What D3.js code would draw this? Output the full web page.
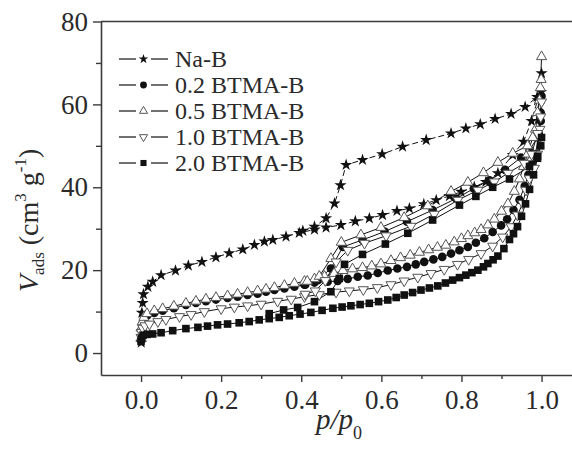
<!DOCTYPE html>
<html>
<head>
<meta charset="utf-8">
<script src="https://cdn.jsdelivr.net/npm/d3@7"></script>
<style>
  html, body { margin: 0; padding: 0; background: #fff; }
  svg { display: block; font-family: 'Liberation Serif', 'Times New Roman', serif; }
</style>
</head>
<body>
<div id="chart"></div>
<script>
// isotherm data, [p/p0, V_ads]
const seriesNames = ['Na-B', '0.2 BTMA-B', '0.5 BTMA-B', '1.0 BTMA-B', '2.0 BTMA-B'];

const naB_ads = [[0.0005,2.5],[0.001,5],[0.002,9.7],[0.004,12.1],[0.006,14.2],[0.017,16.0],[0.029,17.2],[0.05,18.8],[0.086,19.9],[0.118,21.1],[0.152,22.0],[0.187,23.1],[0.22,24.1],[0.254,25.0],[0.283,26.1],[0.308,26.9],[0.329,27.3],[0.362,28.1],[0.395,29.0],[0.433,29.8],[0.462,30.3],[0.499,30.9],[0.535,31.8],[0.570,32.5],[0.603,33.3],[0.639,34.3],[0.670,34.9],[0.706,35.9],[0.737,36.9],[0.770,37.9],[0.799,38.9],[0.832,40.1],[0.861,41.3],[0.891,43.4],[0.928,47.8],[0.955,51],[0.975,56],[0.99,61],[1.0,67.5]];
const naB_des = [[0.999,63.0],[0.989,61.8],[0.959,59.4],[0.924,57.7],[0.884,56.5],[0.847,55.2],[0.811,54.2],[0.774,53.0],[0.712,51.4],[0.653,49.8],[0.602,48.0],[0.553,46.6],[0.512,45.4],[0.498,40.5],[0.483,36.1],[0.462,32.5],[0.433,30.5],[0.404,29.5]];

const b02_ads = [[0,3.2],[0.001,5.5],[0.003,7.0],[0.007,8.2],[0.015,9.0],[0.033,9.7],[0.054,10.2],[0.082,10.8],[0.112,11.6],[0.137,12.1],[0.162,12.5],[0.187,12.9],[0.216,13.3],[0.241,13.6],[0.266,14.0],[0.291,14.3],[0.312,14.8],[0.333,15.2],[0.358,15.6],[0.383,16.0],[0.408,16.5],[0.433,17.0],[0.466,17.2],[0.491,17.4],[0.516,17.9],[0.541,18.4],[0.566,18.7],[0.591,19.3],[0.616,19.9],[0.64,20.4],[0.664,20.8],[0.686,21.4],[0.707,22.0],[0.73,22.6],[0.752,23.2],[0.774,24.0],[0.795,24.8],[0.816,25.6],[0.836,26.6],[0.857,27.7],[0.878,29.2],[0.899,30.8],[0.914,32.3],[0.93,34.5],[0.945,37],[0.958,40.3],[0.967,43],[0.975,45.5],[0.985,48],[0.993,53],[0.998,58],[1.0,62]];
const b02_des = [[0.998,56],[0.99,52],[0.97,49],[0.949,47.2],[0.909,44.2],[0.87,41.7],[0.831,39.7],[0.787,37.3],[0.728,34.5],[0.664,31.7],[0.608,29.3],[0.553,27.3],[0.504,25.6],[0.474,20.4],[0.441,17.6],[0.41,16.5]];

const b05_ads = [[0,3.5],[0.001,6],[0.003,7.5],[0.007,8.6],[0.015,9.5],[0.033,10.2],[0.054,10.7],[0.082,11.3],[0.112,12.0],[0.137,12.5],[0.162,13.0],[0.187,13.4],[0.216,13.8],[0.241,14.2],[0.266,14.6],[0.291,15.0],[0.312,15.4],[0.333,15.8],[0.358,16.3],[0.383,16.8],[0.408,17.3],[0.433,17.9],[0.458,18.5],[0.482,19.2],[0.504,19.9],[0.528,20.3],[0.553,20.6],[0.576,21.0],[0.599,21.5],[0.624,22.3],[0.648,23.0],[0.672,23.6],[0.695,24.3],[0.718,24.9],[0.74,25.5],[0.761,26.0],[0.782,26.8],[0.8,27.6],[0.816,28.3],[0.833,29.0],[0.849,29.8],[0.866,30.9],[0.882,32.3],[0.9,34.2],[0.916,36],[0.932,39],[0.945,42],[0.955,45],[0.965,48],[0.978,52],[0.99,58],[0.997,64],[1.0,71.5]];
const b05_des = [[0.999,66],[0.995,61],[0.985,54],[0.965,50],[0.928,48.2],[0.891,46],[0.855,43.5],[0.816,41.2],[0.774,39],[0.716,35.5],[0.657,32.7],[0.599,30.3],[0.549,28.5],[0.5,26.7],[0.474,22.8],[0.445,18.5],[0.415,17.3]];

const b10_ads = [[0,3.8],[0.001,5],[0.004,6],[0.01,6.6],[0.021,7.0],[0.042,7.6],[0.062,8.1],[0.096,8.8],[0.125,9.3],[0.158,10.0],[0.2,10.7],[0.233,11.1],[0.266,11.4],[0.3,11.8],[0.341,12.5],[0.375,13.0],[0.408,13.6],[0.445,14.1],[0.487,14.7],[0.52,15.0],[0.555,15.3],[0.59,15.8],[0.624,16.5],[0.657,17.4],[0.691,18.3],[0.724,19.2],[0.757,20.2],[0.79,21.4],[0.818,22.6],[0.849,24.0],[0.878,25.8],[0.903,28.0],[0.924,30.5],[0.94,33.3],[0.953,36.1],[0.961,39.3],[0.97,42.1],[0.982,44.6],[0.99,48],[0.996,54],[1.0,60.6]];
const b10_des = [[0.998,57],[0.99,53],[0.975,48],[0.957,45.8],[0.916,43.4],[0.882,41.3],[0.841,39.3],[0.791,36.9],[0.732,33.5],[0.674,30.6],[0.612,28.3],[0.558,26.5],[0.516,24.8],[0.487,22],[0.46,17.5],[0.435,15],[0.41,14.2]];

const b20_ads = [[0,2.8],[0.001,3.5],[0.005,4.3],[0.015,4.5],[0.029,4.6],[0.05,4.9],[0.079,5.4],[0.112,5.9],[0.142,6.2],[0.166,6.5],[0.191,6.8],[0.216,7.0],[0.245,7.3],[0.27,7.6],[0.295,8.0],[0.32,8.3],[0.345,8.6],[0.37,9.0],[0.397,9.4],[0.424,9.8],[0.452,10.3],[0.479,10.8],[0.502,11.1],[0.524,11.4],[0.547,11.7],[0.57,12.0],[0.593,12.4],[0.616,12.8],[0.637,13.4],[0.657,14.0],[0.678,14.6],[0.699,15.2],[0.72,15.7],[0.741,16.2],[0.76,16.9],[0.778,17.6],[0.795,18.2],[0.811,18.8],[0.826,19.4],[0.841,20.0],[0.855,20.8],[0.866,21.6],[0.879,22.5],[0.891,23.4],[0.906,25.2],[0.92,27.4],[0.93,28.8],[0.94,30.5],[0.95,33],[0.96,36],[0.97,39.5],[0.98,43],[0.99,47],[1.0,52]];
const b20_des = [[0.998,50],[0.99,47.5],[0.97,45],[0.92,42],[0.878,40],[0.836,37.8],[0.795,35.7],[0.728,32.1],[0.666,28.9],[0.61,26.3],[0.553,23.8],[0.508,21.4],[0.495,18],[0.474,14.8],[0.433,12.4],[0.391,11.0],[0.356,10.4],[0.32,9.5]];

const xMajor = [0, 0.2, 0.4, 0.6, 0.8, 1.0];
const xMinor = [0.1, 0.3, 0.5, 0.7, 0.9];
const yMajor = [0, 20, 40, 60, 80];
const yMinor = [10, 30, 50, 70];

const series = [
  { name: seriesNames[0], branches: [naB_ads, naB_des], sym: 'star', dash: '6,3' },
  { name: seriesNames[1], branches: [b02_ads, b02_des], sym: 'circle', dash: null },
  { name: seriesNames[2], branches: [b05_ads, b05_des], sym: 'tri', dash: null },
  { name: seriesNames[3], branches: [b10_ads, b10_des], sym: 'triDown', dash: null },
  { name: seriesNames[4], branches: [b20_ads, b20_des], sym: 'square', dash: null },
];

const W = 572, H = 449;
const svg = d3.select('#chart').append('svg').attr('width', W).attr('height', H);

const x = d3.scaleLinear().domain([-0.1, 1.1]).range([101, 101 + 1.2 * 400.5]);
const y = d3.scaleLinear().domain([-5.3, 80]).range([375, 21.5]);

const axisColor = '#3a3a3a';

// draw a marker of a given kind
const drawMarker = (g, kind, px, py, scale) => {
  const s = scale || 1;
  if (kind === 'star') {
    g.append('path')
      .attr('d', d3.symbol(d3.symbolStar, 46 * s * s)())
      .attr('transform', 'translate(' + px + ',' + py + ')')
      .attr('fill', '#111');
  } else if (kind === 'circle') {
    g.append('circle').attr('cx', px).attr('cy', py).attr('r', 4.3 * s).attr('fill', '#111');
  } else if (kind === 'square') {
    g.append('rect')
      .attr('x', px - 3.8 * s).attr('y', py - 3.8 * s)
      .attr('width', 7.6 * s).attr('height', 7.6 * s)
      .attr('fill', '#111');
  } else {
    const rot = kind === 'triDown' ? 180 : 0;
    g.append('path')
      .attr('d', d3.symbol(d3.symbolTriangle, 44 * s * s)())
      .attr('transform', 'translate(' + px + ',' + py + ') rotate(' + rot + ')')
      .attr('fill', '#fff')
      .attr('stroke', '#555')
      .attr('stroke-width', 1);
  }
};

// axes
const xAxisG = svg.append('g').attr('transform', 'translate(0,375)');
xAxisG.call(d3.axisBottom(x).tickValues(xMajor).tickFormat(d3.format('.1f')).tickSize(7).tickSizeOuter(0).tickPadding(8));
xAxisG.append('g').call(d3.axisBottom(x).tickValues(xMinor).tickFormat('').tickSize(4).tickSizeOuter(0))
  .select('.domain').remove();

const yAxisG = svg.append('g').attr('transform', 'translate(101,0)');
yAxisG.call(d3.axisLeft(y).tickValues(yMajor).tickFormat(d3.format('d')).tickSize(8).tickSizeOuter(0).tickPadding(5));
yAxisG.append('g').call(d3.axisLeft(y).tickValues(yMinor).tickFormat('').tickSize(5).tickSizeOuter(0))
  .select('.domain').remove();

svg.selectAll('.domain').attr('stroke', axisColor).attr('stroke-width', 1.6);
svg.selectAll('.tick line').attr('stroke', axisColor).attr('stroke-width', 1.4);
svg.selectAll('.tick text')
  .attr('fill', '#2a2a2a')
  .style('font-family', "'Liberation Serif', serif")
  .style('font-size', '27px');

// top frame line
svg.append('line')
  .attr('x1', 101).attr('x2', W).attr('y1', y(80)).attr('y2', y(80))
  .attr('stroke', axisColor).attr('stroke-width', 1.6);

// curves
const line = d3.line().x((d) => x(d[0])).y((d) => y(d[1]));
const plot = svg.append('g');

series.forEach((s) => {
  s.branches.forEach((b) => {
    plot.append('path')
      .datum(b)
      .attr('d', line)
      .attr('fill', 'none')
      .attr('stroke', '#111')
      .attr('stroke-width', 1)
      .attr('stroke-dasharray', s.dash);
  });
});

series.forEach((s) => {
  const g = plot.append('g');
  s.branches.forEach((b) => {
    b.forEach((d) => drawMarker(g, s.sym, x(d[0]), y(d[1])));
  });
});

// legend
const legend = svg.append('g');
series.forEach((s, i) => {
  const ly = 59 + i * 26;
  legend.append('line').attr('x1', 119).attr('x2', 136).attr('y1', ly).attr('y2', ly)
    .attr('stroke', '#111').attr('stroke-width', 1.2);
  legend.append('line').attr('x1', 151).attr('x2', 168).attr('y1', ly).attr('y2', ly)
    .attr('stroke', '#111').attr('stroke-width', 1.2);
  drawMarker(legend, s.sym, 143.5, ly, 0.8);
  legend.append('text')
    .attr('x', 175).attr('y', ly + 8)
    .attr('fill', '#2a2a2a')
    .style('font-size', '24px')
    .text(s.name);
});

// y axis title
const yTitle = svg.append('text')
  .attr('transform', 'translate(38,292) rotate(-90)')
  .attr('fill', '#2a2a2a')
  .style('font-size', '28px');
yTitle.append('tspan').style('font-style', 'italic').text('V');
yTitle.append('tspan').attr('dy', 6).style('font-size', '17px').text('ads');
yTitle.append('tspan').attr('dy', -6).text(' (cm');
yTitle.append('tspan').attr('dy', -12).style('font-size', '17px').text('3');
yTitle.append('tspan').attr('dy', 12).text(' g');
yTitle.append('tspan').attr('dy', -12).style('font-size', '17px').text('-1');
yTitle.append('tspan').attr('dy', 12).text(')');

// x axis title
const xTitle = svg.append('text')
  .attr('x', 339).attr('y', 429)
  .attr('text-anchor', 'middle')
  .attr('fill', '#2a2a2a')
  .style('font-size', '29px')
  .style('font-style', 'italic');
xTitle.append('tspan').text('p/p');
xTitle.append('tspan').attr('dy', 10).style('font-size', '18px').style('font-style', 'normal').text('0');
</script>
</body>
</html>
